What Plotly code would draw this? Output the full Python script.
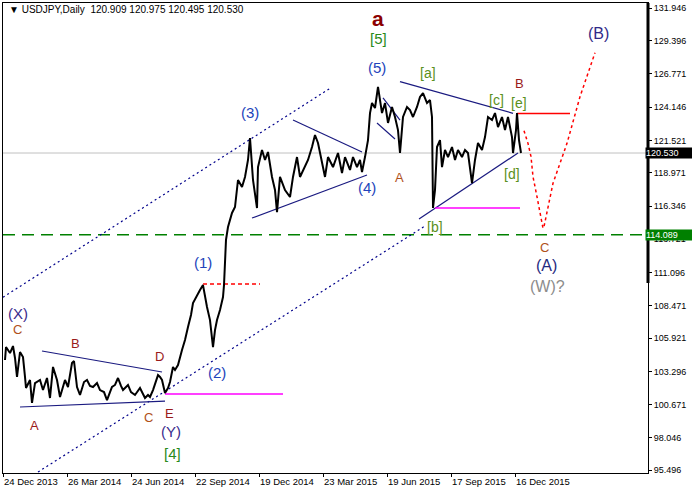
import plotly.graph_objects as go

# ---------------- data (bar index = trading day since 24 Dec 2013) ----------------
bars = [2, 3, 7, 10, 12, 14, 17, 20, 22, 23, 27, 29, 32, 37, 40, 44, 47, 50, 54, 57,
        62, 65, 69, 71, 74, 77, 81, 84, 87, 90, 94, 97, 101, 104, 107, 109, 112, 115, 118, 120,
        125, 128, 132, 137, 140, 142, 145, 147, 150, 153, 155, 157, 159, 162, 165, 167, 170, 172, 175, 179,
        182, 185, 188, 190, 194, 197, 200, 202, 204, 207, 210, 212, 214, 217, 220, 221, 222, 223, 225, 227,
        229, 232, 235, 239, 242, 245, 247, 250, 252, 254, 255, 259, 262, 265, 269, 272, 274, 277, 282, 287,
        290, 294, 297, 300, 305, 309, 312, 315, 319, 322, 325, 330, 335, 339, 342, 347, 350, 354, 357, 359,
        362, 365, 367, 369, 372, 375, 379, 382, 385, 389, 392, 395, 397, 400, 404, 407, 410, 414, 417, 420,
        424, 427, 429, 430, 432, 434, 437, 439, 442, 445, 449, 452, 455, 459, 462, 465, 469, 472, 475, 479,
        482, 485, 489, 492, 495, 499, 502, 505, 509, 510, 513, 514, 516, 518]
prices = [104.20, 105.22, 104.75, 105.30, 104.36, 102.86, 104.83, 104.43, 102.86, 101.99,
          102.62, 100.81, 102.38, 102.62, 101.83, 102.78, 101.20, 103.65, 102.62, 101.28,
          102.62, 102.07, 103.96, 104.12, 102.07, 101.44, 102.46, 102.62, 102.15, 102.07,
          102.38, 101.83, 101.67, 101.04, 101.67, 102.07, 102.23, 102.78, 102.15, 101.83,
          102.23, 101.67, 101.44, 101.99, 101.52, 101.20, 101.44, 101.28, 101.83, 102.46,
          103.01, 102.86, 102.62, 101.59, 101.99, 102.46, 103.65, 103.41, 103.80, 104.99,
          105.78, 106.80, 107.75, 108.69, 109.33, 109.72, 110.11, 109.17, 108.38, 107.35,
          105.22, 106.56, 107.35, 108.14, 109.17, 110.11, 112.09, 113.67, 114.69, 115.24,
          115.80, 116.27, 118.40, 117.85, 118.64, 119.98, 121.71, 118.40, 117.22, 116.19,
          119.42, 120.77, 119.98, 120.61, 118.64, 117.61, 115.87, 118.64, 117.61, 117.06,
          118.64, 120.21, 118.64, 119.19, 119.98, 121.00, 121.95, 121.32, 119.74, 118.64,
          120.21, 119.42, 120.53, 118.95, 120.21, 119.19, 120.21, 119.42, 119.98, 119.03,
          120.21, 121.55, 123.68, 124.47, 124.08, 125.74, 123.68, 124.47, 122.90, 124.16,
          123.37, 122.34, 120.53, 123.37, 124.16, 123.92, 123.37, 124.16, 124.95, 125.26,
          124.47, 124.71, 123.37, 116.19, 117.61, 121.00, 121.55, 119.42, 120.77, 120.21,
          121.00, 119.98, 120.77, 120.21, 120.77, 120.53, 118.16, 119.98, 121.32, 120.77,
          121.79, 123.37, 123.13, 123.68, 122.58, 123.37, 122.34, 123.37, 121.79, 120.53,
          122.34, 123.68, 121.55, 120.53]

tick_bars = [0, 64, 128, 192, 256, 320, 384, 448, 512]
tick_labels = ["24 Dec 2013", "26 Mar 2014", "24 Jun 2014", "22 Sep 2014", "19 Dec 2014",
               "23 Mar 2015", "19 Jun 2015", "17 Sep 2015", "16 Dec 2015"]
price_ticks = [131.946, 129.396, 126.771, 124.146, 121.521, 118.971, 116.346, 113.721,
               111.096, 108.471, 105.921, 103.296, 100.671, 98.046, 95.496]

last_close = 120.530
support_level = 114.089
header = "\u25BC USDJPY,Daily  120.909 120.975 120.495 120.530"

# trend channel (dotted)
chan_up_bars, chan_up_prices = [0, 327], [109.15, 125.63]
chan_lo_bars, chan_lo_prices = [35, 422], [95.36, 114.77]
# triangle lines (solid navy)
tri1_bd_bars, tri1_bd_prices = [39, 159], [104.91, 103.25]
tri1_ace_bars, tri1_ace_prices = [17, 162], [100.49, 100.96]
tri2_up_bars, tri2_up_prices = [290, 359], [123.13, 120.61]
tri2_lo_bars, tri2_lo_prices = [249, 364], [115.40, 118.79]
wa1_bars, wa1_prices = [380, 397], [124.87, 123.13]
wa2_bars, wa2_prices = [374, 392], [122.90, 121.63]
tri3_up_bars, tri3_up_prices = [397, 510], [126.16, 123.66]
tri3_lo_bars, tri3_lo_prices = [416, 515], [115.32, 120.53]
# horizontal levels
mag1_bars, mag1_level = [162, 280], 101.51
mag2_bars, mag2_level = [432, 517], 116.19
red_bars, red_level = [514, 567], 123.65
redd_bars, redd_level = [200, 257], 110.19
# projected path
proj_bars = [521, 525, 528, 530, 534, 537, 540, 541, 550, 564, 577, 592]
proj_prices = [122.29, 121.29, 120.24, 118.66, 117.08, 115.77, 114.59, 114.72, 118.14,
               121.29, 124.97, 128.44]

# wave labels: text, bar, price, colour, size, bold
wave_labels = [
    ("(X)", 15, 107.85, "#3a2c8c", 15, False),
    ("C", 14, 106.62, "#b0501a", 13, False),
    ("A", 31, 99.07, "#9a1a1a", 13, False),
    ("B", 72, 105.54, "#9a1a1a", 13, False),
    ("D", 156, 104.45, "#9a1a1a", 13, False),
    ("C", 145, 99.70, "#b0501a", 13, False),
    ("E", 166, 99.94, "#9a1a1a", 13, False),
    ("(Y)", 168, 98.52, "#3a2c8c", 15, False),
    ("[4]", 169, 96.86, "#2a8a1a", 15, False),
    ("(2)", 214, 103.25, "#2244bb", 15, False),
    ("(1)", 200, 111.93, "#2244bb", 15, False),
    ("(3)", 247, 123.76, "#2244bb", 15, False),
    ("(4)", 364, 117.77, "#2244bb", 15, False),
    ("(5)", 374, 127.31, "#2244bb", 15, False),
    ("a", 375, 131.18, "#8b0000", 21, True),
    ("[5]", 375, 129.60, "#2a8a1a", 15, False),
    ("A", 396, 118.56, "#b0501a", 13, False),
    ("[a]", 425, 126.84, "#5a9020", 14, False),
    ("[b]", 432, 114.69, "#5a9020", 14, False),
    ("[c]", 493, 124.71, "#5a9020", 14, False),
    ("B", 516, 126.05, "#9a1a1a", 13, False),
    ("[e]", 516, 124.47, "#5a9020", 14, False),
    ("[d]", 509, 118.87, "#5a9020", 14, False),
    ("C", 541, 113.11, "#b0501a", 13, False),
    ("(A)", 543, 111.69, "#1f2a80", 16, False),
    ("(W)?", 544, 109.96, "#8c8c8c", 16, False),
    ("(B)", 595, 129.99, "#302a88", 16, False),
]

X_MAX = 645
Y_MIN, Y_MAX = 95.284, 132.364
FONT = "Liberation Sans, Arial"

fig = go.Figure()


def add_line(xs, ys, color, width=1, dash="solid", shape="linear"):
    fig.add_trace(go.Scatter(x=xs, y=ys, mode="lines", hoverinfo="skip",
                             line=dict(color=color, width=width, dash=dash, shape=shape)))


# reference levels
add_line([0, X_MAX], [last_close, last_close], "#c0c0c0", 1)
add_line([0, X_MAX], [support_level, support_level], "#008000", 1.5, "12px,7px")

# channel
add_line(chan_up_bars, chan_up_prices, "#00008b", 1.2, "2px,3px")
add_line(chan_lo_bars, chan_lo_prices, "#00008b", 1.2, "2px,3px")

# triangles / wedges
for bx, py in [(tri1_bd_bars, tri1_bd_prices), (tri1_ace_bars, tri1_ace_prices),
               (tri2_up_bars, tri2_up_prices), (tri2_lo_bars, tri2_lo_prices),
               (wa1_bars, wa1_prices), (wa2_bars, wa2_prices),
               (tri3_up_bars, tri3_up_prices), (tri3_lo_bars, tri3_lo_prices)]:
    add_line(bx, py, "#1a1a80", 1.2)

add_line(mag1_bars, [mag1_level] * 2, "#ff00ff", 1.5)
add_line(mag2_bars, [mag2_level] * 2, "#ff00ff", 1.5)
add_line(red_bars, [red_level] * 2, "#ff0000", 1.5)
add_line(redd_bars, [redd_level] * 2, "#ff0000", 1.5, "4px,3px")
add_line(proj_bars, proj_prices, "#ff0000", 1.5, "3px,3px")

# price
add_line(bars, prices, "#000000", 2)

annotations = []
for txt, bx, py, col, sz, bold in wave_labels:
    annotations.append(dict(x=bx, y=py, xref="x", yref="y", text=f"<b>{txt}</b>" if bold else txt,
                            showarrow=False, xanchor="center", yanchor="middle",
                            font=dict(family=FONT, size=sz, color=col)))

annotations.append(dict(x=0, y=1, xref="paper", yref="paper", text=header, showarrow=False,
                        xanchor="left", yanchor="top", xshift=4, yshift=1,
                        font=dict(family=FONT, size=10, color="#000000")))

for lvl, bg in [(last_close, "#000000"), (support_level, "#008000")]:
    annotations.append(dict(x=1, y=lvl, xref="paper", yref="y", text=f"{lvl:.3f}",
                            showarrow=False, xanchor="left", yanchor="middle", xshift=-3,
                            width=46, align="left", height=10,
                            bgcolor=bg, borderpad=0,
                            font=dict(family=FONT, size=9, color="#ffffff")))

shapes = [dict(type="line", xref="paper", yref="y", x0=1, x1=1, y0=110.27, y1=Y_MAX,
               line=dict(color="#000000", width=3))]

fig.update_layout(
    width=692, height=494,
    margin=dict(l=3, r=44, t=3, b=21, autoexpand=False),
    paper_bgcolor="#ffffff", plot_bgcolor="#ffffff",
    showlegend=False,
    annotations=annotations,
    shapes=shapes,
    xaxis=dict(range=[0, X_MAX], showgrid=False, zeroline=False, automargin=False,
               showline=True, linecolor="#000000", linewidth=1, mirror=True,
               ticks="outside", ticklen=3, tickcolor="#000000",
               tickvals=tick_bars, ticktext=tick_labels,
               ticklabelposition="outside right",
               tickfont=dict(family=FONT, size=9.5, color="#000000")),
    yaxis=dict(range=[Y_MIN, Y_MAX], side="right", showgrid=False, zeroline=False, automargin=False,
               showline=True, linecolor="#000000", linewidth=1, mirror=True,
               ticks="outside", ticklen=3, tickcolor="#000000",
               tickvals=price_ticks, ticktext=[f"{v:.3f}" for v in price_ticks],
               tickfont=dict(family=FONT, size=9, color="#000000")),
)

fig.write_html("out.html", config={"displayModeBar": False},
               post_script="document.body.style.margin='0';document.body.style.padding='0';")
